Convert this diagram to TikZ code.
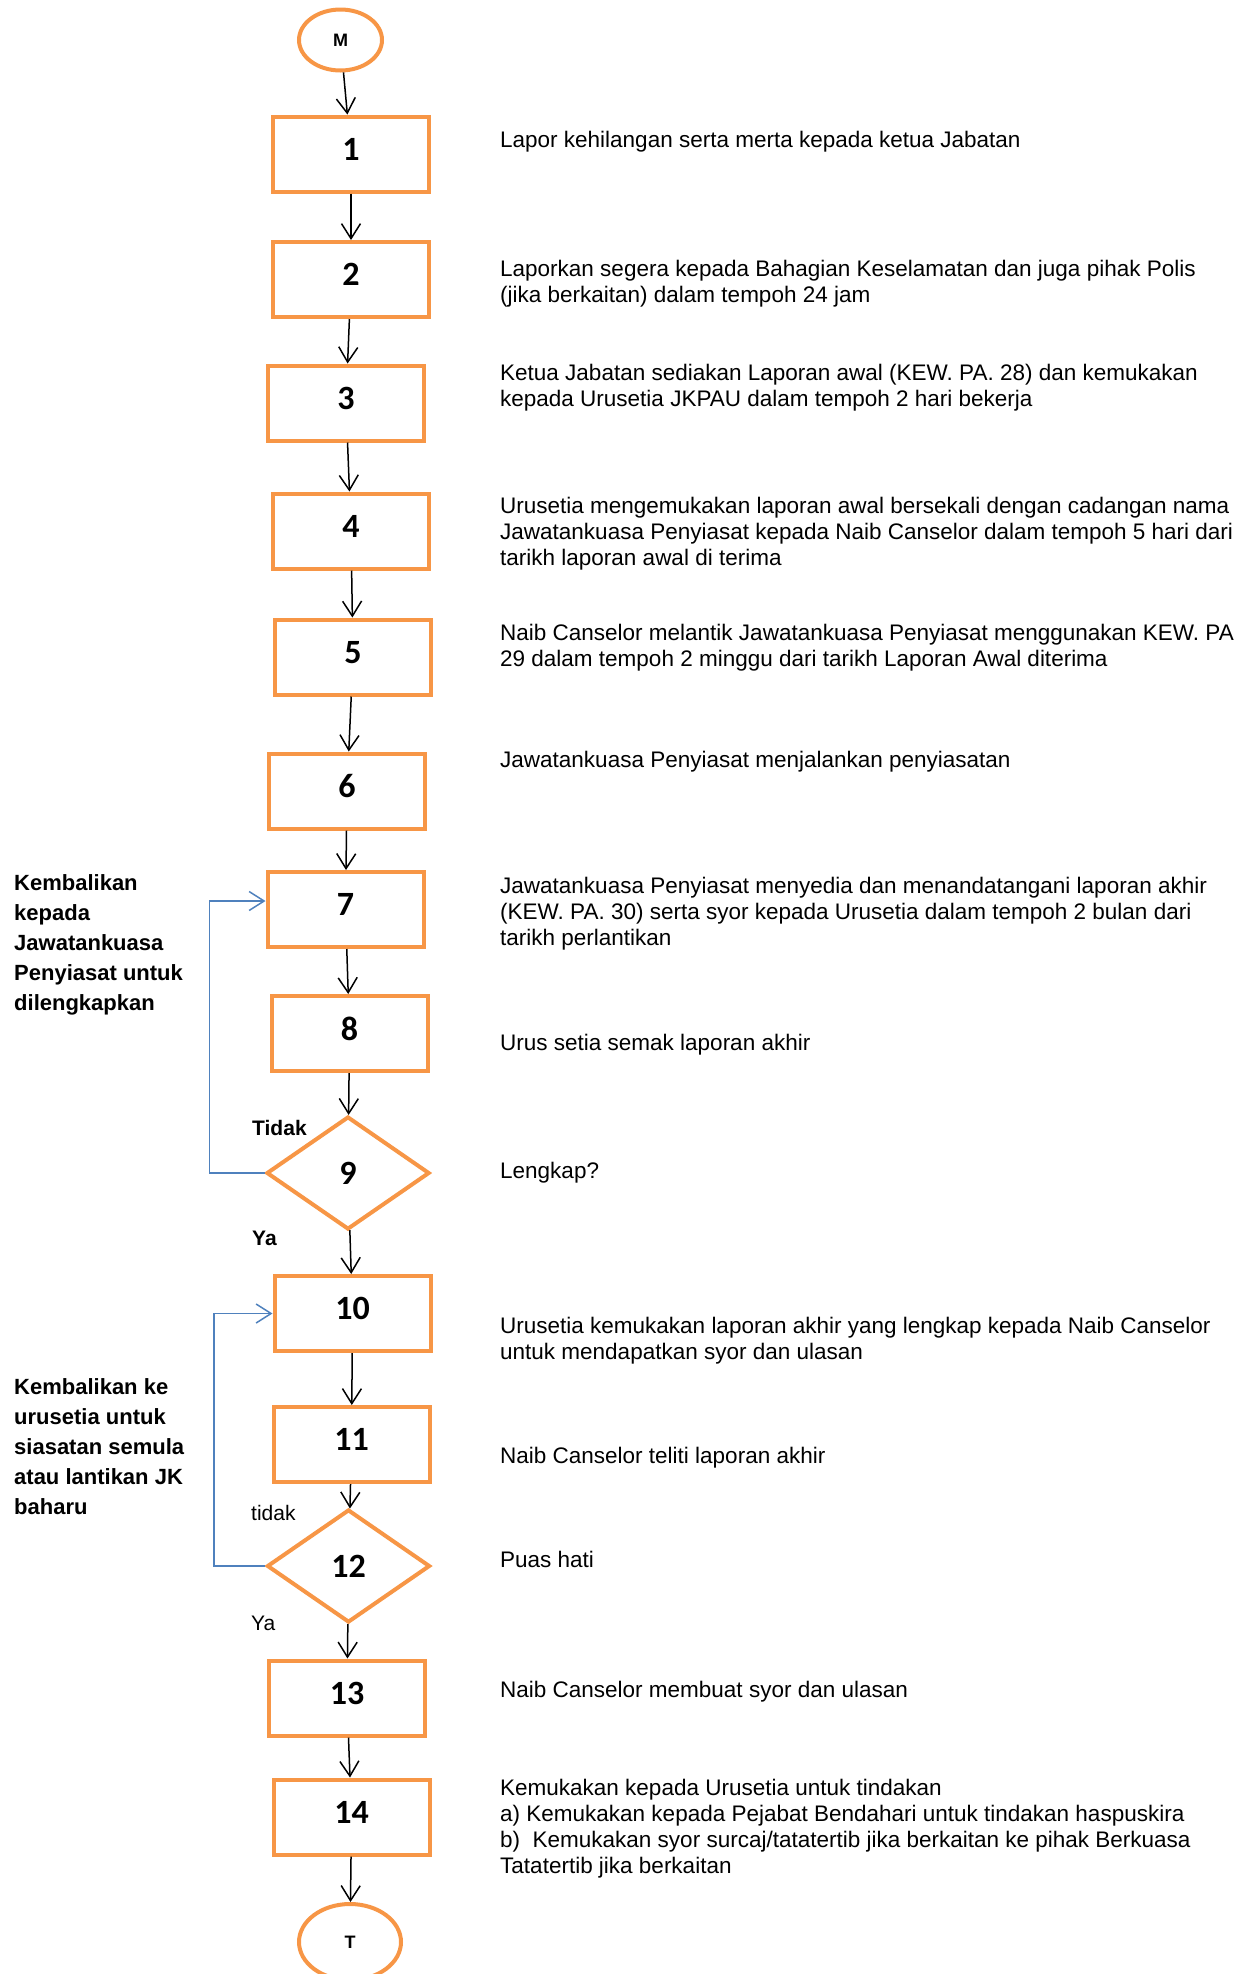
\documentclass[tikz,border=0pt]{standalone}
\usepackage{fontspec}
\setmainfont{Liberation Sans}
\newfontfamily\numfont{Carlito}
\usetikzlibrary{shapes.geometric, arrows.meta}
\definecolor{boxorange}{HTML}{F79646}
\definecolor{loopblue}{HTML}{4F81BD}

\begin{document}
\begin{tikzpicture}[x=1pt, y=-1pt,
  stepbox/.style={draw=boxorange, line width=4pt, minimum width=156pt,
        minimum height=75pt, inner sep=0pt, text depth=10pt,
        font=\numfont\fontsize{34}{40}\selectfont\bfseries},
  decision/.style={diamond, draw=boxorange, line width=4pt, minimum width=163pt,
        minimum height=113pt, inner sep=0pt,
        font=\numfont\fontsize{34}{40}\selectfont\bfseries},
  terminal/.style={ellipse, draw=boxorange, line width=4pt, inner sep=0pt,
        font=\fontsize{18}{20}\selectfont\bfseries},
  desc/.style={anchor=north west, inner sep=0pt, align=left,
        font=\fontsize{22.5}{26}\selectfont, execute at begin node=\strut},
  note/.style={anchor=north west, inner sep=0pt, align=left,
        font=\fontsize{22}{30}\selectfont\bfseries, execute at begin node=\strut},
  answer/.style={anchor=west, inner sep=0pt, font=\fontsize{21}{25}\selectfont},
  flow/.style={draw=black, line width=1.5pt, -{Straight Barb[length=15pt,width=19pt]}},
  back/.style={draw=loopblue, line width=1.5pt, -{Straight Barb[length=15pt,width=19pt]}}]
  \useasboundingbox (0,0) rectangle (1254,1974);

  % flow column
  \node[terminal, minimum width=83pt, minimum height=61pt] (mula) at (340.5,40) {M};
  \node[stepbox] (s1) at (351,154) {1};
  \node[stepbox] (s2) at (351,279.5) {2};
  \node[stepbox] (s3) at (346,403) {3};
  \node[stepbox] (s4) at (351,531) {4};
  \node[stepbox] (s5) at (353,657) {5};
  \node[stepbox] (s6) at (347,791) {6};
  \node[stepbox] (s7) at (345.5,909.5) {7};
  \node[stepbox] (s8) at (349.5,1033.5) {8};
  \node[decision] (s9) at (348,1173) {9};
  \node[stepbox] (s10) at (352.5,1313.5) {10};
  \node[stepbox] (s11) at (351.5,1444.5) {11};
  \node[decision] (s12) at (348.5,1566) {12};
  \node[stepbox] (s13) at (347,1698) {13};
  \node[stepbox] (s14) at (351.5,1817) {14};
  \node[terminal, minimum width=102pt, minimum height=76pt] (tamat) at (350,1942) {T};

  \draw[flow] (mula) -- (s1);
  \draw[flow] (s1) -- (s2);
  \draw[flow] (s2) -- (s3);
  \draw[flow] (s3) -- (s4);
  \draw[flow] (s4) -- (s5);
  \draw[flow] (s5) -- (s6);
  \draw[flow] (s6) -- (s7);
  \draw[flow] (s7) -- (s8);
  \draw[flow] (s8) -- (s9);
  \draw[flow] (s9) -- (s10);
  \draw[flow] (s10) -- (s11);
  \draw[flow] (s11) -- (s12);
  \draw[flow] (s12) -- (s13);
  \draw[flow] (s13) -- (s14);
  \draw[flow] (s14) -- (tamat);

  % return loops
  \draw[back] (s9.west) -- ++(-55,0) |- ([yshift=8.5pt]s7.west);
  \draw[back] (s12.west) -- ++(-51,0) |- (s10.west);

  \node[answer, font=\fontsize{21}{25}\selectfont\bfseries] (tidak9) at (252,1128) {Tidak};
  \node[answer, font=\fontsize{21}{25}\selectfont\bfseries] (ya9) at (252,1238) {Ya};
  \node[answer] (tidak12) at (251,1513) {tidak};
  \node[answer] (ya12) at (251,1623) {Ya};

  \node[note] (back7) at (14,874) {Kembalikan\\kepada\\Jawatankuasa\\Penyiasat untuk\\dilengkapkan};
  \node[note] (back10) at (14,1378) {Kembalikan ke\\urusetia untuk\\siasatan semula\\atau lantikan JK\\baharu};

  % descriptions
  \node[desc] (n1) at (500,128.8) {Lapor kehilangan serta merta kepada ketua Jabatan};
  \node[desc] (n2) at (500,259.8) {Laporkan segera kepada Bahagian Keselamatan dan juga pihak Polis\\(jika berkaitan) dalam tempoh 24 jam};
  \node[desc] (n3) at (500,363.8) {Ketua Jabatan sediakan Laporan awal (KEW. PA. 28) dan kemukakan\\kepada Urusetia JKPAU dalam tempoh 2 hari bekerja};
  \node[desc] (n4) at (500,496.8) {Urusetia mengemukakan laporan awal bersekali dengan cadangan nama\\Jawatankuasa Penyiasat kepada Naib Canselor dalam tempoh 5 hari dari\\tarikh laporan awal di terima};
  \node[desc] (n5) at (500,623.8) {Naib Canselor melantik Jawatankuasa Penyiasat menggunakan KEW. PA\\29 dalam tempoh 2 minggu dari tarikh Laporan Awal diterima};
  \node[desc] (n6) at (500,748.8) {Jawatankuasa Penyiasat menjalankan penyiasatan};
  \node[desc] (n7) at (500,876.8) {Jawatankuasa Penyiasat menyedia dan menandatangani laporan akhir\\(KEW. PA. 30) serta syor kepada Urusetia dalam tempoh 2 bulan dari\\tarikh perlantikan};
  \node[desc] (n8) at (500,1031.8) {Urus setia semak laporan akhir};
  \node[desc] (n9) at (500,1159.8) {Lengkap?};
  \node[desc] (n10) at (500,1316.8) {Urusetia kemukakan laporan akhir yang lengkap kepada Naib Canselor\\untuk mendapatkan syor dan ulasan};
  \node[desc] (n11) at (500,1444.8) {Naib Canselor teliti laporan akhir};
  \node[desc] (n12) at (500,1548.8) {Puas hati};
  \node[desc] (n13) at (500,1678.8) {Naib Canselor membuat syor dan ulasan};
  \node[desc] (n14) at (500,1778.8) {Kemukakan kepada Urusetia untuk tindakan\\a) Kemukakan kepada Pejabat Bendahari untuk tindakan haspuskira\\b)\ \ Kemukakan syor surcaj/tatatertib jika berkaitan ke pihak Berkuasa\\Tatatertib jika berkaitan};
\end{tikzpicture}
\end{document}
